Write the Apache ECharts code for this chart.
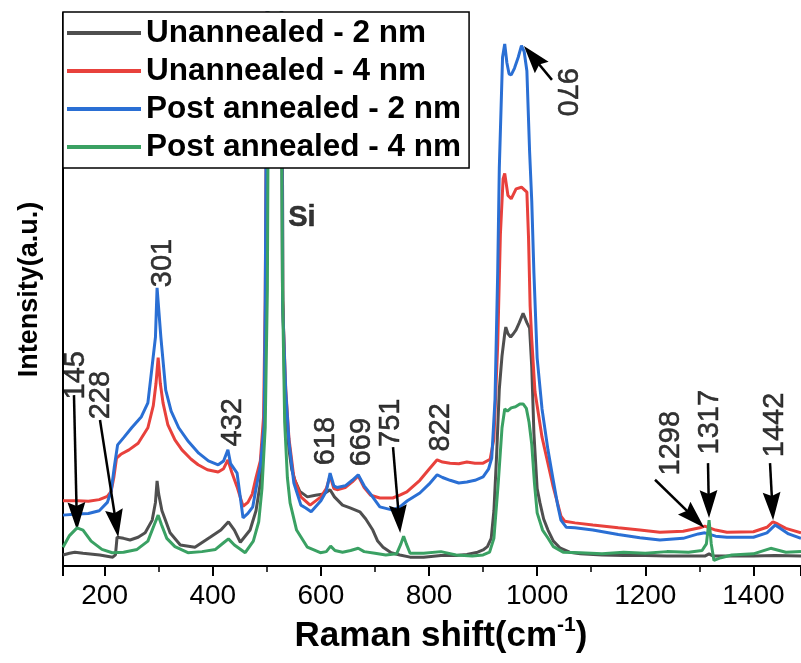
<!DOCTYPE html>
<html><head><meta charset="utf-8">
<script src="https://cdn.jsdelivr.net/npm/echarts@6/dist/echarts.min.js"></script>
<style>html,body{margin:0;padding:0;background:#fff}#c{width:801px;height:663px}</style>
</head><body><div id="c"></div>
<script>
const seriesNames = ['Unannealed - 2 nm', 'Unannealed - 4 nm', 'Post annealed - 2 nm', 'Post annealed - 4 nm'];
const seriesColors = ['#4f4f4f', '#e8413c', '#2a6fd4', '#3aa163'];

// [Raman shift, intensity]
const unannealed2 = [[123,2.0],[135,2.3],[145,2.5],[160,2.3],[191,2.0],[215,1.6],[220,2.0],[223,5.2],[235,5.0],[247,4.7],[262,5.2],[275,6.0],[288,8.3],[294,11.5],[297,15.4],[300,13],[306,10],[321,6.0],[340,3.8],[367,3.4],[395,5.2],[415,6.5],[429,8.0],[440,6.5],[451,4.3],[469,6.5],[480,10],[488,15],[495,26],[499,48],[502,115],[527,115],[530,48],[533,32],[537,26],[541,21],[546,17.5],[552,15.5],[561,13.5],[575,12.5],[590,12.8],[605,13],[617,13.8],[625,12.5],[640,11],[654,10.5],[672,9.8],[683,8.5],[696,6.5],[705,4.5],[715,3.4],[730,2.4],[746,2.0],[765,1.6],[790,1.6],[822,1.9],[850,1.9],[870,2.1],[890,2.5],[900,2.9],[908,3.5],[915,5],[920,10],[925,20],[930,32],[935,38],[940,42],[942,43.2],[946,42],[951,41.4],[956,42],[961,42.7],[967,44],[974,45.7],[981,44],[986,43],[990,36],[994,24],[1000,14],[1005,11.5],[1012,8.5],[1020,6.5],[1030,4.5],[1042,3.3],[1060,2.5],[1080,2.2],[1120,2.0],[1160,1.9],[1200,1.9],[1240,1.8],[1280,1.8],[1310,1.8],[1318,2.2],[1325,1.8],[1360,1.8],[1400,1.8],[1440,1.9],[1488,1.8]];
const unannealed4 = [[123,11.8],[150,11.8],[170,11.7],[190,12],[205,12.6],[212,13.5],[217,16],[222,19.5],[230,20.2],[245,21],[262,22.2],[280,25],[290,29],[295,33],[299,37.7],[303,33],[308,29.5],[317,25.5],[330,22.8],[343,21],[360,19.3],[373,18.3],[390,17.4],[410,17],[420,17.6],[428,19.2],[435,17],[445,14.3],[456,10.8],[465,11.5],[473,13],[480,16],[488,19],[494,27],[497,48],[501,115],[527,115],[529,48],[535,32],[541,23],[550,16],[563,12.5],[580,11],[600,12.5],[610,14],[617,16.3],[624,14],[630,13.8],[645,14.2],[658,15.2],[669,16.3],[680,14.2],[692,12.8],[709,12.3],[733,12.3],[746,12.8],[759,13.4],[783,15.5],[800,17.5],[815,19.2],[825,18.8],[839,18.6],[855,18.5],[870,18.8],[885,18.6],[900,18.6],[913,19.3],[920,23],[927,40],[932,60],[937,70],[940,71],[946,67],[952,66.4],[961,68.2],[971,68.5],[981,67.6],[984,59.5],[987,47],[990,41],[996,31.5],[1009,23.3],[1029,14.6],[1044,9],[1051,8.1],[1070,7.8],[1103,7.4],[1150,6.9],[1190,6.5],[1227,6.1],[1270,6.3],[1301,6.9],[1310,7.2],[1330,6.5],[1351,6.1],[1400,6.2],[1425,7],[1436,8],[1445,7.6],[1460,6.8],[1488,6]];
const postAnnealed2 = [[123,9.2],[150,9.4],[170,9.5],[190,10],[205,11.5],[212,13.5],[218,18],[224,21.9],[236,23.3],[250,25],[268,27],[280,29.5],[287,35.4],[294,41.4],[297,50.3],[300,50.3],[304,41.4],[313,31.8],[323,28],[337,25],[355,22.5],[374,20.4],[392,19],[410,18.3],[420,19],[428,21],[433,18.5],[445,16.8],[456,8.7],[465,9.5],[474,10.7],[480,14],[488,18],[495,25.5],[497,47],[501,115],[527,115],[529,47.5],[535,31.6],[541,22.4],[550,15],[563,11],[572,10.5],[582,9.8],[600,11.8],[610,13.5],[617,16.8],[624,14.5],[630,14.2],[645,14.5],[658,15.5],[669,16.5],[680,14.5],[692,13],[709,10.7],[733,10.1],[746,10.7],[760,11.8],[783,13.2],[800,14.8],[815,16.5],[825,16],[839,15.5],[855,15],[870,15.2],[885,15.5],[900,16.1],[910,17.5],[916,19.5],[922,30],[927,53],[930,72],[936,92],[940,94.4],[944,91],[948,89],[952,88.8],[958,90],[965,92],[971,94.1],[976,93],[981,89.5],[986,75],[990,66],[994,53],[1000,37.6],[1009,28.4],[1020,21],[1029,15.9],[1038,11],[1044,8.3],[1054,7.0],[1070,6.9],[1103,6.5],[1150,5.7],[1190,5.1],[1227,4.7],[1270,5.0],[1298,5.8],[1310,6.0],[1330,5.4],[1351,5.2],[1400,5.2],[1425,6.0],[1440,7.4],[1450,6.8],[1465,5.8],[1488,5.0]];
const postAnnealed4 = [[123,3.4],[135,5.5],[149,6.9],[160,6.5],[175,4.5],[195,3.0],[214,2.4],[235,2.5],[260,3.0],[280,4.5],[292,7.5],[299,9.2],[305,7.5],[315,5.0],[330,3.5],[354,2.4],[380,2.6],[405,3.0],[420,4.2],[429,4.9],[440,3.8],[460,2.4],[475,4.5],[485,8],[491,14],[497,25],[501,50],[504,115],[525,115],[529,50],[533,26],[538,16],[543,11.4],[555,6.5],[575,3.4],[599,2.4],[610,2.6],[618,3.6],[626,2.8],[640,2.5],[655,2.8],[669,3.2],[680,2.6],[700,2.3],[720,2.0],[740,2.2],[748,4.0],[753,5.4],[758,4.0],[765,2.3],[790,2.3],[822,2.6],[850,2.0],[880,1.8],[900,2.0],[912,2.5],[920,5],[928,15],[935,25],[940,28.4],[945,28.0],[952,28.6],[960,28.8],[968,29.3],[974,29.3],[980,28.5],[985,26],[990,22],[995,15],[1000,9.6],[1010,6.5],[1019,5.2],[1030,3.5],[1048,2.5],[1080,2.4],[1120,2.2],[1160,2.5],[1200,2.3],[1240,2.6],[1280,2.5],[1305,2.8],[1313,4],[1318,8.3],[1322,4],[1327,1.0],[1340,1.5],[1360,2.0],[1400,2.2],[1432,3.2],[1460,2.5],[1488,2.6]];

// peak annotations: [text, x, y, rotation, bold]
const peakLabels = [['145',147,34.5,90,false],['228',193,30.9,90,false],['301',308,54.8,90,false],['432',437,26,90,false],['Si',565,62.9,0,true],['618',609,22.6,90,false],['669',676,22.4,90,false],['751',730,25.9,90,false],['822',822,25.1,90,false],['970',1053,85.7,-90,false],['1298',1247,22.2,90,false],['1317',1320,26,90,false],['1442',1440,25.5,90,false]];
// arrows: [fromX, fromY, toX, toY] (end = centre of the arrow head)
const peakArrows = [[143.3,30.9,148.4,9.0],[191.4,26.4,221.2,7.7],[733.4,21.5,744.5,8.5],[1218,15.6,1290.5,8.7],[1316,18.6,1317.4,11.2],[1430.7,18.6,1435.0,10.8],[1027.4,87.9,992,92.1]];

const FONT = '"Liberation Sans", Arial, Helvetica, sans-serif';
const allData = [unannealed2, unannealed4, postAnnealed2, postAnnealed4];
const ARROW_HEAD = 'path://M11,0 L18,22 L11,19 L4,22 Z M0,22 L0.01,22 L0,22.01 Z M22,0 L21.99,0 L22,0.01 Z';

const chart = echarts.init(document.getElementById('c'), null, {renderer: 'canvas'});
const lineSeries = seriesNames.map((n, i) => ({
  name: n, type: 'line', data: allData[i], showSymbol: false, symbol: 'none',
  lineStyle: {width: 3, color: seriesColors[i]}, itemStyle: {color: seriesColors[i]},
  z: 2 + i, clip: true
}));

const annot = {
  type: 'scatter', name: 'annotations', symbolSize: 0, silent: true, z: 8,
  data: peakLabels.map(a => ({
    name: a[0], value: [a[1], a[2]],
    label: {rotate: a[3], fontWeight: a[4] ? 'bold' : 'normal', color: '#000'}
  })),
  label: {show: true, position: 'inside', formatter: '{b}', color: '#000', fontSize: 29, fontFamily: FONT,
          textBorderColor: '#000', textBorderWidth: 0.5},
  markLine: {
    silent: true, animation: false, symbol: ['none', ARROW_HEAD], symbolSize: 28,
    lineStyle: {color: '#000', width: 2.5, type: 'solid'},
    itemStyle: {color: '#000'},
    label: {show: false}, emphasis: {disabled: true},
    data: peakArrows.map(a => [{coord: [a[0], a[1]]}, {coord: [a[2], a[3]]}])
  }
};

chart.setOption({
  animation: false,
  backgroundColor: '#fff',
  grid: {left: 63, right: 0, top: 13, bottom: 97},
  legend: {
    data: seriesNames, orient: 'vertical', left: 63, top: 12,
    padding: [5, 8, 5, 4], itemGap: 6, itemWidth: 74, itemHeight: 4, icon: 'rect',
    backgroundColor: '#fff', borderColor: '#000', borderWidth: 1.5, z: 20,
    textStyle: {fontSize: 31.5, fontWeight: 'bold', fontFamily: FONT, color: '#000', lineHeight: 31}
  },
  xAxis: {
    type: 'value', min: 123, max: 1488, splitNumber: 7,
    axisLine: {show: true, onZero: false, lineStyle: {color: '#000', width: 2}},
    axisTick: {show: true, length: 10, lineStyle: {color: '#000', width: 2}},
    minorTick: {show: true, splitNumber: 2, length: 6, lineStyle: {color: '#000', width: 1.5}},
    axisLabel: {showMinLabel: false, showMaxLabel: false, margin: 16, color: '#000', fontSize: 28, fontFamily: FONT,
                formatter: v => String(v)},
    splitLine: {show: false},
    name: '{a|Raman shift(cm}{s|-1}{a|)}', nameLocation: 'middle', nameGap: 49,
    nameTextStyle: {padding: [0, 0, 0, 18], rich: {
      a: {fontSize: 35, fontWeight: 'bold', fontFamily: FONT, color: '#000', lineHeight: 42},
      s: {fontSize: 21, fontWeight: 'bold', fontFamily: FONT, color: '#000', verticalAlign: 'top', lineHeight: 21}
    }}
  },
  yAxis: {
    type: 'value', min: 0, max: 100,
    axisLine: {show: true, onZero: false, lineStyle: {color: '#000', width: 2}},
    axisTick: {show: false}, axisLabel: {show: false}, splitLine: {show: false},
    name: 'Intensity(a.u.)', nameLocation: 'middle', nameGap: 20,
    nameTextStyle: {fontSize: 27, fontWeight: 'bold', color: '#000', fontFamily: FONT}
  },
  series: lineSeries.concat([annot])
});
</script></body></html>
